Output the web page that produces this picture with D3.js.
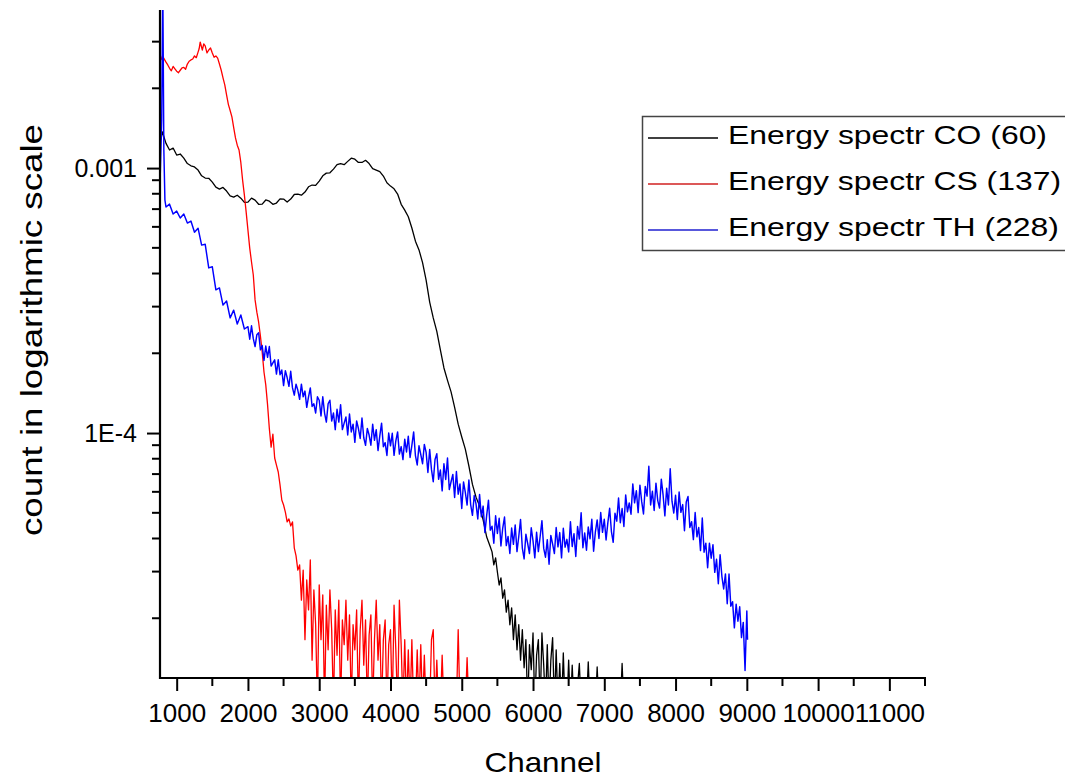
<!DOCTYPE html>
<html>
<head>
<meta charset="utf-8">
<script src="https://cdn.jsdelivr.net/npm/d3@7"></script>
<style>
  html, body { margin: 0; padding: 0; background: #fff; }
  svg { display: block; }
  text { font-family: "Liberation Sans", Arial, sans-serif; fill: #000; }
</style>
</head>
<body>
<svg id="chart" width="1065" height="779"></svg>
<script>
// ---------------- DATA ----------------
const seriesNames = ["Energy spectr CO (60)", "Energy spectr CS (137)", "Energy spectr TH (228)"];
const xTickValues = [1000, 2000, 3000, 4000, 5000, 6000, 7000, 8000, 9000, 10000, 11000];
const xTickLabels = ["1000", "2000", "3000", "4000", "5000", "6000", "7000", "8000", "9000", "10000", "11000"];
const yTickValues = [0.001, 0.0001];
const yTickLabels = ["0.001", "1E-4"];
const xTitle = "Channel";
const yTitle = "count in logarithmic scale";

// [channel, count]; 0 = empty channel (below the log axis)
// CO (60) – black
const spectrumCO = [
  [780,1.28e-3],[800,1.37e-3],[850,1.24e-3],[900,1.17e-3],[950,1.19e-3],[1000,1.12e-3],[1050,1.13e-3],[1100,1.09e-3],
  [1150,1.04e-3],[1200,1.02e-3],[1250,1.01e-3],[1300,9.83e-4],[1350,9.35e-4],[1400,9.17e-4],[1450,9.15e-4],[1500,8.85e-4],
  [1550,8.47e-4],[1600,8.33e-4],[1650,8.45e-4],[1700,8.19e-4],[1750,7.85e-4],[1800,7.77e-4],[1850,7.90e-4],[1900,7.70e-4],
  [1950,7.42e-4],[2000,7.44e-4],[2050,7.70e-4],[2100,7.57e-4],[2150,7.30e-4],[2200,7.31e-4],[2250,7.58e-4],[2300,7.50e-4],
  [2350,7.30e-4],[2400,7.38e-4],[2450,7.65e-4],[2500,7.64e-4],[2550,7.45e-4],[2600,7.64e-4],[2650,7.95e-4],[2700,7.98e-4],
  [2750,7.90e-4],[2800,8.12e-4],[2850,8.50e-4],[2900,8.63e-4],[2950,8.60e-4],[3000,8.93e-4],[3050,9.35e-4],[3100,9.57e-4],
  [3150,9.60e-4],[3200,9.91e-4],[3250,1.03e-3],[3300,1.04e-3],[3350,1.03e-3],[3400,1.06e-3],[3450,1.09e-3],[3500,1.08e-3],
  [3550,1.05e-3],[3600,1.05e-3],[3650,1.07e-3],[3700,1.04e-3],[3750,9.95e-4],[3800,9.83e-4],[3850,9.70e-4],[3900,9.33e-4],
  [3950,8.80e-4],[4000,8.55e-4],[4050,8.35e-4],[4100,7.98e-4],[4150,7.30e-4],[4200,6.94e-4],[4250,6.55e-4],[4300,5.94e-4],
  [4350,5.30e-4],[4400,4.91e-4],[4450,4.40e-4],[4500,3.78e-4],[4550,3.12e-4],[4600,2.72e-4],[4650,2.42e-4],[4700,2.06e-4],
  [4750,1.76e-4],[4800,1.58e-4],[4850,1.43e-4],[4900,1.25e-4],[4950,1.08e-4],[5000,9.66e-5],[5050,8.70e-5],[5100,7.51e-5],
  [5150,6.40e-5],[5200,5.73e-5],[5250,5.30e-5],[5300,4.70e-5],[5350,4.05e-5],[5400,3.72e-5],[5425,3.56e-5],[5450,3.18e-5],
  [5475,3.38e-5],[5500,2.99e-5],[5525,2.67e-5],[5550,2.84e-5],[5575,2.38e-5],[5600,2.56e-5],[5625,2.11e-5],[5650,2.34e-5],
  [5675,1.89e-5],[5700,2.19e-5],[5725,1.66e-5],[5750,2.06e-5],[5775,1.52e-5],[5800,1.89e-5],[5825,1.39e-5],[5850,1.81e-5],
  [5875,1.30e-5],[5900,1.66e-5],[5925,0],[5950,1.59e-5],[5975,1.28e-5],[6000,1.76e-5],[6025,0],[6050,1.45e-5],
  [6075,1.66e-5],[6100,0],[6125,1.76e-5],[6150,1.33e-5],[6175,0],[6200,1.59e-5],[6225,0],[6250,1.39e-5],
  [6275,1.69e-5],[6300,0],[6325,1.52e-5],[6350,0],[6375,1.35e-5],[6400,0],[6425,1.48e-5],[6450,0],
  [6475,0],[6500,1.39e-5],[6525,0],[6550,1.33e-5],[6575,0],[6600,0],[6650,1.35e-5],[6675,0],
  [6750,0],[6775,1.37e-5],[6800,0],[6875,0],[6900,1.31e-5],[6925,0],[7225,0],[7250,1.35e-5],[7275,0]
];

// CS (137) – red
const spectrumCS = [
  [780,2.56e-3],[800,2.65e-3],[850,2.51e-3],[875,2.45e-3],[900,2.38e-3],[925,2.33e-3],[950,2.42e-3],[975,2.37e-3],
  [1000,2.32e-3],[1025,2.29e-3],[1050,2.34e-3],[1075,2.39e-3],[1100,2.40e-3],[1125,2.36e-3],[1150,2.47e-3],[1175,2.53e-3],
  [1200,2.56e-3],[1225,2.58e-3],[1250,2.65e-3],[1275,2.61e-3],[1300,2.74e-3],[1315,2.82e-3],[1330,2.99e-3],[1360,2.79e-3],
  [1380,2.94e-3],[1400,2.89e-3],[1425,2.72e-3],[1450,2.79e-3],[1475,2.84e-3],[1500,2.72e-3],[1525,2.62e-3],[1550,2.65e-3],
  [1575,2.60e-3],[1600,2.47e-3],[1625,2.34e-3],[1650,2.19e-3],[1675,2.06e-3],[1700,1.89e-3],[1725,1.74e-3],[1750,1.65e-3],
  [1775,1.56e-3],[1800,1.42e-3],[1825,1.30e-3],[1850,1.22e-3],[1875,1.17e-3],[1900,1.05e-3],[1925,9.01e-4],[1950,7.91e-4],
  [1975,6.82e-4],[2000,5.83e-4],[2025,4.99e-4],[2050,4.42e-4],[2075,3.95e-4],[2100,3.18e-4],[2125,2.86e-4],[2150,2.62e-4],
  [2175,2.32e-4],[2200,2.02e-4],[2225,1.70e-4],[2250,1.52e-4],[2275,1.28e-4],[2300,1.04e-4],[2325,8.85e-5],[2350,9.91e-5],
  [2375,8.05e-5],[2400,7.57e-5],[2425,7.13e-5],[2450,6.37e-5],[2475,5.59e-5],[2500,5.35e-5],[2525,5.03e-5],[2550,4.62e-5],
  [2575,4.74e-5],[2600,4.46e-5],[2625,4.62e-5],[2650,3.69e-5],[2675,3.44e-5],[2700,3.04e-5],[2725,3.18e-5],[2750,2.34e-5],
  [2775,3.04e-5],[2800,1.66e-5],[2825,2.79e-5],[2850,2.15e-5],[2875,3.32e-5],[2900,1.39e-5],[2925,2.56e-5],[2950,1.89e-5],
  [2975,0],[3000,2.67e-5],[3025,1.66e-5],[3050,2.45e-5],[3075,0],[3100,2.24e-5],[3125,1.52e-5],[3150,2.56e-5],
  [3175,1.81e-5],[3200,0],[3225,2.15e-5],[3250,1.45e-5],[3275,2.34e-5],[3300,0],[3325,1.97e-5],[3350,1.59e-5],
  [3375,2.34e-5],[3400,1.39e-5],[3425,2.06e-5],[3450,0],[3475,1.89e-5],[3500,1.52e-5],[3525,2.15e-5],[3550,0],
  [3575,1.81e-5],[3600,2.34e-5],[3625,1.33e-5],[3650,1.97e-5],[3675,0],[3700,1.73e-5],[3725,2.06e-5],[3750,0],
  [3775,1.66e-5],[3800,2.34e-5],[3825,1.39e-5],[3850,1.89e-5],[3875,0],[3900,1.66e-5],[3925,1.97e-5],[3950,0],
  [3975,1.59e-5],[4000,1.81e-5],[4025,0],[4050,2.24e-5],[4075,1.52e-5],[4100,0],[4125,2.34e-5],[4150,1.59e-5],
  [4175,0],[4200,1.66e-5],[4225,0],[4250,1.52e-5],[4275,0],[4300,1.66e-5],[4325,0],[4350,0],
  [4375,1.52e-5],[4400,0],[4425,1.59e-5],[4450,0],[4475,1.45e-5],[4500,0],[4550,0],[4575,1.66e-5],
  [4600,1.81e-5],[4625,0],[4650,1.39e-5],[4675,0],[4700,0],[4725,1.45e-5],[4750,0],[4925,0],
  [4950,1.81e-5],[4975,0],[5050,0],[5075,1.42e-5],[5100,0]
];

// TH (228) – blue
const spectrumTH = [
  [760,7.57e-4],[790,1.52e-3],[805,5.0e-3],[820,1.17e-3],[835,7.57e-4],[850,7.13e-4],[900,7.31e-4],[950,6.71e-4],
  [1000,6.88e-4],[1050,6.48e-4],[1100,6.71e-4],[1150,6.20e-4],[1200,6.31e-4],[1250,5.73e-4],[1300,5.93e-4],[1350,5.12e-4],
  [1400,5.16e-4],[1450,4.20e-4],[1500,4.24e-4],[1550,3.47e-4],[1600,3.53e-4],[1650,3.04e-4],[1700,3.15e-4],[1750,2.72e-4],
  [1800,2.91e-4],[1850,2.58e-4],[1900,2.79e-4],[1950,2.47e-4],
  [2000,2.52e-4],[2025,2.26e-4],[2050,2.54e-4],[2075,2.27e-4],[2100,2.12e-4],[2125,2.35e-4],[2150,2.39e-4],[2175,2.06e-4],
  [2200,2.14e-4],[2225,1.88e-4],[2250,2.13e-4],[2275,1.93e-4],[2300,2.12e-4],[2325,1.79e-4],[2350,1.84e-4],[2375,1.89e-4],
  [2400,1.67e-4],[2425,1.89e-4],[2450,1.66e-4],[2475,1.73e-4],[2500,1.51e-4],[2525,1.72e-4],[2550,1.62e-4],[2575,1.50e-4],
  [2600,1.71e-4],[2625,1.48e-4],[2650,1.39e-4],[2675,1.53e-4],[2700,1.45e-4],[2725,1.34e-4],[2750,1.53e-4],[2775,1.37e-4],
  [2800,1.44e-4],[2825,1.25e-4],[2850,1.37e-4],[2875,1.48e-4],[2900,1.26e-4],[2925,1.29e-4],[2950,1.19e-4],[2975,1.37e-4],
  [3000,1.33e-4],[3025,1.16e-4],[3050,1.37e-4],[3075,1.19e-4],[3100,1.10e-4],[3125,1.29e-4],[3150,1.33e-4],[3175,1.11e-4],
  [3200,1.19e-4],[3225,1.03e-4],[3250,1.23e-4],[3275,1.10e-4],[3300,1.28e-4],[3325,1.03e-4],[3350,1.09e-4],[3375,1.15e-4],
  [3400,9.84e-5],[3425,1.18e-4],[3450,1.01e-4],[3475,1.08e-4],[3500,9.22e-5],[3525,1.11e-4],[3550,1.04e-4],[3575,9.54e-5],
  [3600,1.14e-4],[3625,9.60e-5],[3650,8.99e-5],[3675,1.04e-4],[3700,9.83e-5],[3725,9.00e-5],[3750,1.08e-4],[3775,9.39e-5],
  [3800,1.03e-4],[3825,8.59e-5],[3850,9.76e-5],[3875,1.09e-4],[3900,8.88e-5],[3925,9.20e-5],[3950,8.23e-5],[3975,1.00e-4],
  [4000,8.95e-5],[4025,9.98e-5],[4050,8.24e-5],[4075,9.35e-5],[4100,1.01e-4],[4125,8.33e-5],[4150,8.89e-5],[4175,7.94e-5],
  [4200,9.48e-5],[4225,8.48e-5],[4250,9.73e-5],[4275,8.09e-5],[4300,8.99e-5],[4325,1.01e-4],[4350,8.22e-5],[4375,7.58e-5],
  [4400,8.95e-5],[4425,8.30e-5],[4450,7.66e-5],[4475,9.06e-5],
  [4500,8.45e-5],[4525,7.10e-5],[4550,8.67e-5],[4575,7.29e-5],[4600,6.55e-5],[4625,7.95e-5],[4650,8.36e-5],[4675,6.69e-5],
  [4700,7.25e-5],[4725,6.05e-5],[4750,7.66e-5],[4775,6.68e-5],[4800,8.05e-5],[4825,6.12e-5],[4850,6.55e-5],[4875,6.98e-5],
  [4900,5.71e-5],[4925,7.16e-5],[4950,5.88e-5],[4975,6.43e-5],[5000,5.19e-5],[5025,6.54e-5],[5050,5.97e-5],[5075,5.35e-5],
  [5100,6.65e-5],[5125,5.37e-5],[5150,4.89e-5],[5175,5.81e-5],[5200,5.40e-5],[5225,4.74e-5],[5250,5.87e-5],[5275,4.83e-5],
  [5300,5.30e-5],[5325,4.21e-5],[5350,4.90e-5],[5375,5.58e-5],[5400,4.30e-5],[5425,4.45e-5],[5450,3.84e-5],[5475,4.87e-5],
  [5500,4.18e-5],[5525,4.77e-5],[5550,3.75e-5],[5575,4.38e-5],[5600,4.82e-5],[5625,3.76e-5],[5650,4.07e-5],[5675,3.51e-5],
  [5700,4.38e-5],[5725,3.80e-5],[5750,4.50e-5],[5775,3.57e-5],[5800,4.07e-5],[5825,4.72e-5],[5850,3.68e-5],[5875,3.35e-5],
  [5900,4.15e-5],[5925,3.83e-5],[5950,3.51e-5],[5975,4.39e-5],[6000,3.92e-5],[6025,3.38e-5],[6050,4.22e-5],[6075,3.57e-5],
  [6100,4.07e-5],[6125,4.67e-5],[6150,3.67e-5],[6175,3.40e-5],[6200,3.96e-5],[6225,3.20e-5],[6250,4.11e-5],[6275,3.81e-5],
  [6300,3.51e-5],[6325,4.40e-5],[6350,3.72e-5],[6375,4.21e-5],[6400,3.38e-5],[6425,4.37e-5],[6450,3.71e-5],[6475,3.97e-5],
  [6500,3.56e-5],[6525,4.63e-5],[6550,3.73e-5],[6575,4.17e-5],[6600,3.42e-5],[6625,4.44e-5],[6650,3.98e-5],[6675,5.00e-5],
  [6700,3.69e-5],[6725,4.20e-5],[6750,3.61e-5],[6775,4.42e-5],[6800,3.99e-5],[6825,4.73e-5],[6850,3.58e-5],[6875,4.24e-5],
  [6900,4.70e-5],[6925,4.00e-5],[6950,5.01e-5],[6975,4.22e-5],[7000,4.73e-5],[7025,3.95e-5],[7050,4.59e-5],[7075,5.20e-5],
  [7100,4.25e-5],[7125,3.87e-5],[7150,4.98e-5],[7175,4.65e-5],[7200,5.69e-5],[7225,4.59e-5],[7250,5.19e-5],[7275,4.44e-5],
  [7300,5.84e-5],[7325,5.04e-5],[7350,5.45e-5],[7375,4.94e-5],[7400,6.43e-5],[7425,5.45e-5],[7450,6.06e-5],[7475,5.01e-5],
  [7500,6.36e-5],[7525,5.51e-5],[7550,4.95e-5],[7575,6.29e-5],[7600,5.78e-5],[7625,7.49e-5],[7650,5.35e-5],[7675,6.03e-5],
  [7700,5.10e-5],[7725,6.47e-5],[7750,5.56e-5],[7775,5.21e-5],[7800,6.70e-5],[7825,5.84e-5],[7850,4.87e-5],[7875,6.19e-5],
  [7900,5.35e-5],[7925,7.33e-5],[7950,5.53e-5],[7975,4.99e-5],[8000,5.82e-5],[8025,4.72e-5],[8050,5.99e-5],[8075,5.02e-5],
  [8100,5.37e-5],[8125,4.28e-5],[8150,5.49e-5],[8175,5.76e-5],[8200,4.40e-5],[8225,4.63e-5],[8250,3.96e-5],[8275,5.01e-5],
  [8300,4.06e-5],[8325,4.40e-5],[8350,3.60e-5],[8375,4.78e-5],[8400,3.55e-5],[8425,3.84e-5],[8450,3.10e-5],[8475,3.84e-5],
  [8500,3.37e-5],[8525,3.79e-5],[8550,2.98e-5],[8575,3.34e-5],[8600,2.70e-5],[8625,3.47e-5],[8650,2.88e-5],[8675,2.58e-5],
  [8700,2.94e-5],[8725,2.27e-5],[8750,2.94e-5],[8775,2.22e-5],[8800,2.31e-5],[8825,1.84e-5],[8850,2.26e-5],[8875,1.95e-5],
  [8900,2.21e-5],[8925,1.69e-5],[8950,1.93e-5],[8975,1.27e-5],[9000,2.13e-5],[9010,1.66e-5]
];

const seriesColors = ["#000000", "#ff0000", "#0000ff"];
const seriesWidths = [1.3, 1.3, 1.45];
const legendColors = ["#000000", "#d02020", "#2020d0"];

// ---------------- CHART ----------------
(function () {
  const svg = d3.select("#chart");
  const pLeft = 160, pRight = 925, pTop = 10, pBottom = 678;

  const x = d3.scaleLinear().domain([766, 11500]).range([pLeft, pRight]);
  const y = d3.scaleLog().domain([1.19e-5, 3.95e-3]).range([pBottom, pTop]);

  svg.append("defs").append("clipPath").attr("id", "plotClip")
    .append("rect").attr("x", pLeft).attr("y", pTop).attr("width", pRight - pLeft + 5).attr("height", pBottom - pTop);

  const series = [spectrumCO, spectrumCS, spectrumTH];

  const line = d3.line()
    .x(d => x(d[0]))
    .y(d => d[1] > 0 ? y(d[1]) : pBottom + 30);

  const plot = svg.append("g").attr("clip-path", "url(#plotClip)");
  series.forEach((s, i) => {
    plot.append("path")
      .datum(s)
      .attr("fill", "none")
      .attr("stroke", seriesColors[i])
      .attr("stroke-width", seriesWidths[i])
      .attr("stroke-linejoin", "round")
      .attr("d", line);
  });

  // X axis
  const xMinor = d3.range(1500, 11501, 1000);
  const xAxis = d3.axisBottom(x).tickValues(xTickValues)
    .tickFormat((d, i) => xTickLabels[i]).tickSizeInner(13).tickSizeOuter(0).tickPadding(4);
  const gx = svg.append("g").attr("transform", `translate(0,${pBottom})`).call(xAxis);
  gx.select(".domain").attr("stroke", "#000").attr("stroke-width", 2.2)
    .attr("d", `M${pLeft - 1},0H${pRight + 1}`);
  gx.selectAll(".tick line").attr("stroke", "#000").attr("stroke-width", 2);
  gx.selectAll(".tick text").attr("font-size", 26).attr("font-family", "Liberation Sans, Arial, sans-serif")
    .attr("dy", "0.71em").attr("y", 26);
  gx.selectAll(".minor").data(xMinor).enter().append("line")
    .attr("class", "minor")
    .attr("x1", d => x(d)).attr("x2", d => x(d))
    .attr("y1", 0).attr("y2", 8)
    .attr("stroke", "#000").attr("stroke-width", 2);

  // Y axis
  const yMinor = [];
  [1e-5, 1e-4, 1e-3].forEach(dec => {
    for (let m = 2; m <= 9; m++) {
      const v = m * dec;
      if (v >= y.domain()[0] && v <= y.domain()[1]) yMinor.push(v);
    }
  });
  const yAxis = d3.axisLeft(y).tickValues(yTickValues)
    .tickFormat((d, i) => yTickLabels[i]).tickSizeInner(13).tickSizeOuter(0).tickPadding(10);
  const gy = svg.append("g").attr("transform", `translate(${pLeft},0)`).call(yAxis);
  gy.select(".domain").attr("stroke", "#000").attr("stroke-width", 2.2)
    .attr("d", `M0,${pTop}V${pBottom + 1}`);
  gy.selectAll(".tick line").attr("stroke", "#000").attr("stroke-width", 2);
  gy.selectAll(".tick text").attr("font-size", 25).attr("font-family", "Liberation Sans, Arial, sans-serif");
  gy.selectAll(".minor").data(yMinor).enter().append("line")
    .attr("class", "minor")
    .attr("x1", -8).attr("x2", 0)
    .attr("y1", d => y(d)).attr("y2", d => y(d))
    .attr("stroke", "#000").attr("stroke-width", 2);

  // Axis titles
  svg.append("text")
    .attr("x", 543).attr("y", 772)
    .attr("text-anchor", "middle")
    .attr("font-size", 28)
    .attr("textLength", 117).attr("lengthAdjust", "spacingAndGlyphs")
    .text(xTitle);

  svg.append("text")
    .attr("transform", "translate(42,330) rotate(-90)")
    .attr("text-anchor", "middle")
    .attr("font-size", 30)
    .attr("textLength", 412).attr("lengthAdjust", "spacingAndGlyphs")
    .text(yTitle);

  // Legend
  const legend = svg.append("g");
  legend.append("rect")
    .attr("x", 642.5).attr("y", 116.5).attr("width", 440).attr("height", 134)
    .attr("fill", "#fff").attr("stroke", "#444").attr("stroke-width", 1.5);
  const legendWidths = [319, 333, 331];
  seriesNames.forEach((name, i) => {
    const by = 144 + i * 46;
    legend.append("line")
      .attr("x1", 648).attr("x2", 718)
      .attr("y1", by - 6).attr("y2", by - 6)
      .attr("stroke", legendColors[i]).attr("stroke-width", 1.3);
    legend.append("text")
      .attr("x", 728).attr("y", by)
      .attr("font-size", 26)
      .attr("textLength", legendWidths[i]).attr("lengthAdjust", "spacingAndGlyphs")
      .text(name);
  });
})();
</script>
</body>
</html>
